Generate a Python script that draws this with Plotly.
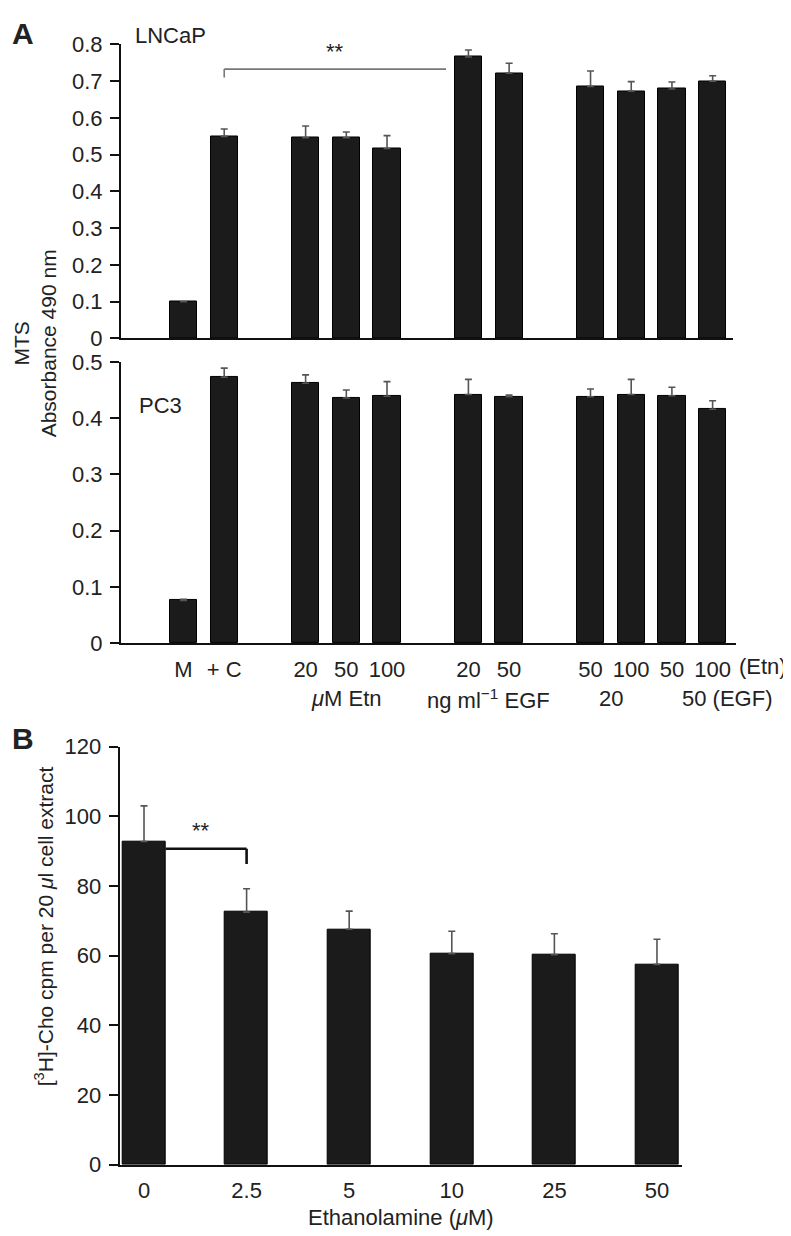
import plotly.graph_objects as go

W, H = 791, 1236

# ---------------- Data ----------------
# Panel A: groups of conditions (tick labels)
groupA_labels = [["M", "+ C"], ["20", "50", "100"], ["20", "50"], ["50", "100", "50", "100"]]
lncap_vals = [0.100, 0.550, 0.546, 0.546, 0.517, 0.766, 0.722, 0.686, 0.673, 0.679, 0.700]
lncap_err = [0.000, 0.020, 0.032, 0.016, 0.035, 0.019, 0.027, 0.042, 0.026, 0.019, 0.015]
pc3_vals = [0.076, 0.473, 0.462, 0.436, 0.439, 0.442, 0.438, 0.438, 0.442, 0.440, 0.416]
pc3_err = [0.002, 0.016, 0.015, 0.014, 0.026, 0.027, 0.003, 0.014, 0.027, 0.015, 0.015]

# Panel B
etn_labels = ["0", "2.5", "5", "10", "25", "50"]
cho_vals = [92.8, 72.5, 67.6, 60.6, 60.3, 57.5]
cho_err = [10.2, 6.7, 5.2, 6.4, 6.0, 7.2]

# ---------------- Helpers ----------------
def px_x(p):
    return p / W

def px_y(p):
    return 1 - p / H

# slot positions with one empty slot between groups
posA, tickA = [], []
s = 0
for g in groupA_labels:
    for lab in g:
        posA.append(s)
        tickA.append(lab)
        s += 1
    s += 1
posB = list(range(len(etn_labels)))

FONT = "Liberation Sans, Arial, Helvetica, sans-serif"
TXT = "#222222"
BAR = "#1b1b1b"
ERR = "#555555"
FS = 22

fig = go.Figure()

def add_bars(x, y, e, xa, ya, width):
    fig.add_trace(go.Bar(
        x=x, y=y, width=width, xaxis=xa, yaxis=ya,
        marker=dict(color=BAR, line=dict(color="#000000", width=1)),
        error_y=dict(type="data", array=e, arrayminus=[0] * len(e), symmetric=False,
                     color=ERR, thickness=1.6, width=3.5),
        showlegend=False, hoverinfo="skip"))

add_bars(posA, lncap_vals, lncap_err, "x", "y", 0.67)
add_bars(posA, pc3_vals, pc3_err, "x2", "y2", 0.67)
add_bars(posB, cho_vals, cho_err, "x3", "y3", 0.42)

axis_common = dict(showgrid=False, zeroline=False, showline=True, linecolor="#111111",
                   linewidth=2, tickfont=dict(family=FONT, size=FS, color=TXT))
yt = dict(ticks="outside", ticklen=9, tickwidth=2, tickcolor="#111111", ticklabelstandoff=3)

# Panel A pixel geometry
xA0 = -1.536
xA1 = 13.50
fig.update_layout(
    xaxis=dict(domain=[px_x(113), px_x(725)], range=[xA0, xA1], anchor="y",
               showticklabels=False, ticks="", **axis_common),
    yaxis=dict(domain=[px_y(325), px_y(25)], range=[0, 0.8], dtick=0.1, anchor="x",
               **yt, **axis_common),
    xaxis2=dict(domain=[px_x(113), px_x(728)], range=[xA0, 13.575], anchor="y2",
                tickvals=posA, ticktext=tickA, ticks="", ticklabelstandoff=5, **axis_common),
    yaxis2=dict(domain=[px_y(636), px_y(349)], range=[0, 0.5], dtick=0.1, anchor="x2",
                **yt, **axis_common),
    xaxis3=dict(domain=[px_x(111.7), px_x(674)], range=[-0.237, 5.244], anchor="y3",
                tickvals=posB, ticktext=etn_labels, ticks="", ticklabelstandoff=5, **axis_common),
    yaxis3=dict(domain=[px_y(1168.3), px_y(741.7)], range=[0, 120], dtick=20, anchor="x3",
                **yt, **axis_common),
)

# ---------------- Significance brackets ----------------
# Panel A: from +C bar to just before EGF 20 bar
i_c = 1
i_egf = 5
xa_start = posA[i_c]
xa_end = posA[i_egf] - 0.55
ya_low = lncap_vals[i_c] + 0.16
ya_high = lncap_vals[i_c] + 0.183
fig.add_shape(type="line", xref="x", yref="y", x0=xa_start, x1=xa_start, y0=ya_low, y1=ya_high,
              line=dict(color="#777777", width=1.6))
fig.add_shape(type="line", xref="x", yref="y", x0=xa_start, x1=xa_end, y0=ya_high, y1=ya_high,
              line=dict(color="#777777", width=1.6))
fig.add_annotation(x=(xa_start + xa_end) / 2, y=ya_high + 0.047, xref="x", yref="y", text="**",
                   showarrow=False, font=dict(family=FONT, size=FS, color=TXT))

# Panel B: from 0 bar top edge to 2.5 bar
xb_start = posB[0] + 0.21
xb_end = posB[1]
yb_top = cho_vals[0] - 2.1
yb_bot = cho_vals[0] - 6.5
fig.add_shape(type="line", xref="x3", yref="y3", x0=xb_start, x1=xb_end, y0=yb_top, y1=yb_top,
              line=dict(color="#111111", width=2.6))
fig.add_shape(type="line", xref="x3", yref="y3", x0=xb_end, x1=xb_end, y0=yb_top, y1=yb_bot,
              line=dict(color="#111111", width=2.6))
fig.add_annotation(x=(posB[0] + posB[1]) / 2 + 0.06, y=yb_top + 5.2, xref="x3", yref="y3", text="**",
                   showarrow=False, font=dict(family=FONT, size=FS, color=TXT))

# ---------------- Text annotations ----------------
def ann(text, x, y, size=FS, bold=False, xanchor="center", angle=0, xref="paper", yref="paper"):
    fig.add_annotation(text=("<b>%s</b>" % text) if bold else text, x=x, y=y, xref=xref, yref=yref,
                       showarrow=False, xanchor=xanchor, yanchor="middle", textangle=angle,
                       font=dict(family=FONT, size=size, color=TXT))

ann("A", px_x(15), px_y(14), size=30, bold=True)
ann("B", px_x(15), px_y(733), size=30, bold=True)
ann("LNCaP", px_x(162), px_y(16))
ann("PC3", px_x(152), px_y(393))
ann("MTS<br>Absorbance 490 nm", px_x(27), px_y(330), size=21, angle=-90)

# second row of group labels in panel A
row2 = px_y(693)
etn_grp = posA[2:5]
egf_grp = posA[5:7]
comb = posA[7:11]
fig.add_annotation(text="<i>μ</i>M Etn", x=sum(etn_grp) / 3, y=row2, xref="x2", yref="paper",
                   showarrow=False, font=dict(family=FONT, size=FS, color=TXT))
fig.add_annotation(text="ng ml<sup>−1</sup> EGF", x=sum(egf_grp) / 2, y=row2, xref="x2", yref="paper",
                   showarrow=False, font=dict(family=FONT, size=FS, color=TXT))
fig.add_annotation(text="20", x=(comb[0] + comb[1]) / 2, y=row2, xref="x2", yref="paper",
                   showarrow=False, font=dict(family=FONT, size=FS, color=TXT))
fig.add_annotation(text="50 (EGF)", x=(comb[2] + comb[3]) / 2, xshift=-12, xanchor="left", y=row2,
                   xref="x2", yref="paper", showarrow=False, font=dict(family=FONT, size=FS, color=TXT))
fig.add_annotation(text="(Etn)", x=comb[3], xshift=24, xanchor="left", y=px_y(660), xref="x2", yref="paper",
                   showarrow=False, font=dict(family=FONT, size=FS, color=TXT))

ann("[<sup>3</sup>H]-Cho cpm per 20 <i>μ</i>l cell extract", px_x(36), px_y(925), size=21, angle=-90)
ann("Ethanolamine (<i>μ</i>M)", px_x(393), px_y(1222))

fig.update_layout(width=W, height=H, margin=dict(l=0, r=0, t=0, b=0),
                  paper_bgcolor="white", plot_bgcolor="white", bargap=0,
                  font=dict(family=FONT, color=TXT))

fig.write_html("out.html")
